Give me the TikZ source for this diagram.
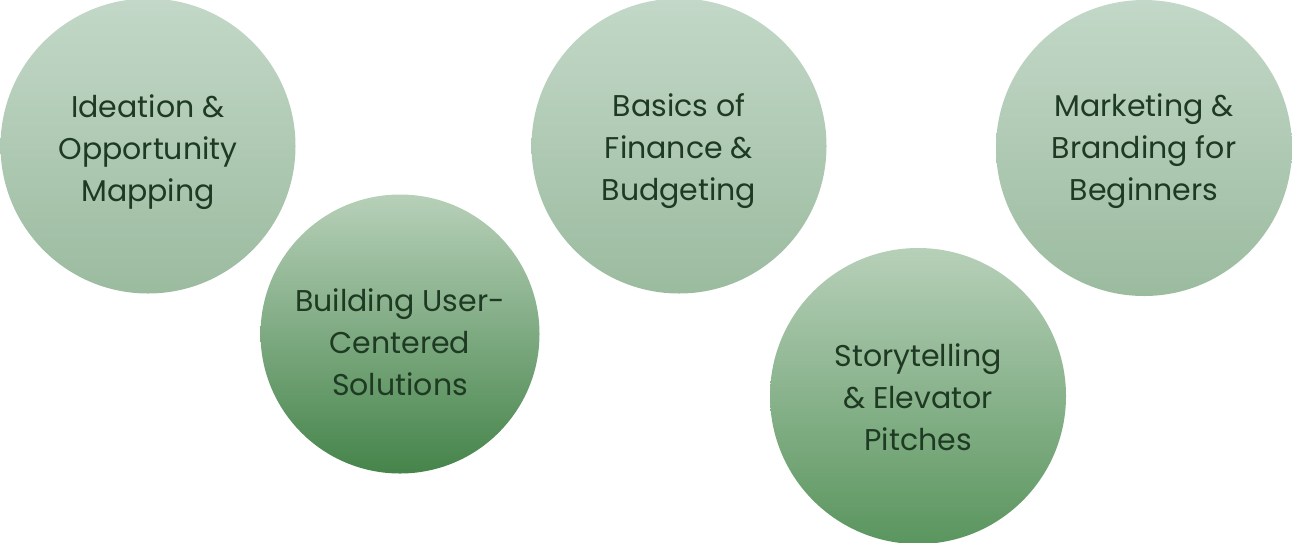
\documentclass[tikz,border=0pt]{standalone}
\usepackage{fontspec}
\setmainfont{Poppins}
\definecolor{txt}{HTML}{1E3A22}
\definecolor{paleA}{HTML}{C3D8C8}
\definecolor{paleB}{HTML}{9BBB9F}
\definecolor{deepA}{HTML}{B7D0B9}
\definecolor{deepB}{HTML}{45844A}
\definecolor{midB}{HTML}{5A955E}
\begin{document}
\begin{tikzpicture}[x=1pt,y=-1pt,
  topic/.style={circle, draw=none, inner sep=0pt, shading angle=-12},
  pale/.style={topic, top color=paleA, bottom color=paleB},
  deep/.style={topic, top color=deepA, bottom color=deepB},
  mid/.style={topic, top color=deepA, bottom color=midB},
  caption/.style={align=center, inner sep=0pt, text=txt,
    font=\fontsize{30}{42}\selectfont}]
\useasboundingbox (0,0) rectangle (1292,542);
% the five topic discs
\node[pale, minimum size=295pt] (ideation) at (148,146) {};
\node[deep, minimum size=279pt] (building) at (400,334) {};
\node[pale, minimum size=295pt] (finance) at (679,146) {};
\node[pale, minimum size=296pt] (marketing) at (1144,148) {};
\node[mid, minimum size=296pt] (story) at (918,396) {};
% their titles, set a little below each centre
\node[caption] (ideation-t) at ([yshift=-6pt]ideation.center) {Ideation \&\\Opportunity\\Mapping};
\node[caption] (building-t) at ([yshift=-8pt]building.center) {Building User-\\Centered\\Solutions};
\node[caption] (finance-t) at ([yshift=-5pt]finance.center) {Basics of\\Finance \&\\Budgeting};
\node[caption] (marketing-t) at ([yshift=-3pt]marketing.center) {Marketing \&\\Branding for\\Beginners};
\node[caption] (story-t) at ([yshift=-1pt]story.center) {Storytelling\\\& Elevator\\Pitches};
\end{tikzpicture}
\end{document}
